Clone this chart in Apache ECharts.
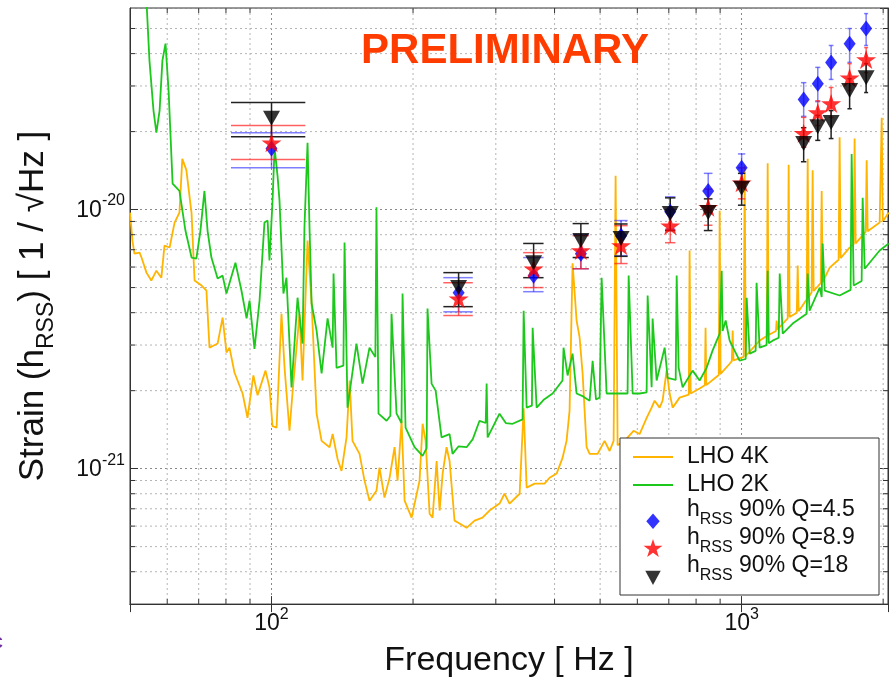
<!DOCTYPE html>
<html><head><meta charset="utf-8">
<script src="https://cdn.jsdelivr.net/npm/echarts@6/dist/echarts.min.js"></script>
<style>html,body{margin:0;padding:0;background:#fff}#c{width:891px;height:683px}</style>
</head><body><div id="c"></div>
<script>
// ---------- data ----------
const lho4kFreq = [50,50.6,51.1,52.4,52.9,54.2,55.5,56.9,58.3,59.2,60.7,62.2,63.7,64.6,65.9,67.6,68.6,71.0,72.7,73.8,76.8,78.7,80.2,81.4,83.4,86.8,88.9,91.5,93.4,97.1,99.0,100.5,102.5,105,106.6,109.2,110.8,114.7,116.4,119.3,121.7,124.7,127.8,132.9,134.9,138.2,140.9,144.4,146.6,148.7,153.9,157.7,161.6,167.2,169.7,173.9,178.3,182.7,185.4,189.1,191.9,198.6,206.5,209.6,212.7,216.9,220.1,224.5,227.8,231.2,235.7,239.2,245.1,251.2,260,270.4,281.1,290.9,305.5,313,320.9,337.1,343.8,348.9,362.8,380.9,390.4,404.1,415.9,424.2,430.5,436.9,445.6,452.2,458.9,468,475,493.9,511.1,523.8,534.2,539.4,544.7,563.7,589,606.7,628,643.5,653,669.2,679,692.5,702.8,713.3,738,772,775,779,814,835,838,841,894,898,902,943,953,957,961,1010,1015,1020,1092,1131,1136,1141,1183,1187,1192,1253,1259,1265,1310,1316,1322,1375,1382,1389,1409,1416,1423,1473,1480,1487,1539,1608,1616,1624,1697,1731,1739,1748,1836,1845,1854,1966,1976,1986,1996,2055];
const lho4kStrain = [9.74e-21,7.59e-21,6.76e-21,6.82e-21,6.53e-21,5.71e-21,5.32e-21,5.81e-21,5.46e-21,7.26e-21,7.14e-21,8.91e-21,9.74e-21,1.57e-20,1.42e-20,9.66e-21,5.32e-21,5.09e-21,4.87e-21,2.93e-21,3.04e-21,3.83e-21,2.81e-21,2.93e-21,2.35e-21,1.95e-21,1.57e-21,2.29e-21,1.92e-21,2.39e-21,2.06e-21,1.46e-21,1.44e-21,3.96e-21,2.45e-21,1.40e-21,1.95e-21,3.96e-21,2.19e-21,7.59e-21,4.34e-21,1.63e-21,1.28e-21,1.21e-21,1.36e-21,1.09e-21,9.8e-22,1.32e-21,2.19e-21,1.28e-21,1.14e-21,8.99e-22,7.52e-22,8.22e-22,1.01e-21,7.73e-22,9.22e-22,1.21e-21,8.99e-22,1.53e-21,7.52e-22,6.47e-22,8.99e-22,1.49e-21,1.28e-21,6.7e-22,6.47e-22,1.07e-21,6.89e-22,9.57e-22,1.21e-21,1.07e-21,6.3e-22,6.14e-22,5.91e-22,6.3e-22,6.47e-22,6.89e-22,7.33e-22,8.0e-22,7.33e-22,8.0e-22,1.71e-21,8.45e-22,8.75e-22,8.75e-22,9.22e-22,9.57e-22,1.10e-21,1.28e-21,1.67e-21,6.2e-21,3.73e-21,3.21e-21,2.33e-21,1.21e-21,1.14e-21,1.14e-21,1.28e-21,1.17e-21,1.28e-21,1.35e-20,1.23e-21,1.28e-21,1.40e-21,1.36e-21,1.57e-21,1.72e-21,1.83e-21,1.72e-21,1.83e-21,2.39e-21,1.95e-21,1.72e-21,1.88e-21,1.93e-21,6.95e-21,1.95e-21,2.04e-21,2.1e-21,3.5e-21,2.1e-21,2.3e-21,9.9e-21,2.32e-21,2.54e-21,2.6e-21,3.41e-21,2.62e-21,2.7e-21,1.48e-20,2.72e-21,3.12e-21,3.25e-21,1.51e-20,3.28e-21,3.4e-21,3.73e-21,3.45e-21,3.8e-21,1.49e-20,3.85e-21,4.0e-21,6.08e-21,4.05e-21,4.5e-21,1.57e-20,4.6e-21,4.8e-21,1.42e-20,4.85e-21,5.2e-21,1.18e-20,5.25e-21,5.97e-21,6.4e-21,1.90e-20,6.5e-21,7.13e-21,7.35e-21,1.88e-20,7.4e-21,8.2e-21,1.55e-20,8.25e-21,8.91e-21,8.95e-21,2.26e-20,9.0e-21,9.74e-21];

const lho2kFreq = [52,54.2,55.0,56.1,56.9,57.8,58.6,59.5,60.4,61.6,63.7,65.6,67.6,69.2,70.6,72.0,73.1,74.5,76.8,78.7,80.2,83.8,86.3,88.5,89.8,92.0,94.3,96.6,98.1,99.0,100.5,101.5,103,104,106,107.6,110.3,113.6,116.4,117.5,119.3,120.5,121.7,124.7,127.8,131.6,134.9,135.5,137.5,142.2,143,145.1,151.6,156.2,161.6,166.3,167.2,168.9,175.7,179,180,184.5,189,190,192.8,201.5,209.6,213.8,214.7,219,223.4,230,239.2,242.7,250,260,268,277,285.5,286.8,288.2,305.5,315,325.7,342,343.8,348.9,358,359.3,366.4,380,396.2,415.9,418,426.4,436.9,445.6,460,475,482,490,498.8,503.7,516.2,542,572,575,586.4,606.7,628,631,643.5,646.6,659.4,685.9,696,724,727.5,734.5,749,786.6,814,842.4,867.6,898,903,907,911,924.7,943,990,1020,1025,1040,1071,1076,1092,1130,1136,1142,1164,1199,1205,1223,1284,1375,1382,1395,1466,1480,1487,1502,1616,1705,1714,1731,1800,1809,1827,1966,2055];
const lho2kStrain = [1e-19,6.4e-20,3.76e-20,2.41e-20,1.98e-20,2.41e-20,3.76e-20,4.37e-20,2.88e-20,1.26e-20,1.18e-20,8.3e-21,6.53e-21,6.47e-21,8.3e-21,1.18e-20,8.3e-21,6.53e-21,5.42e-21,5.56e-21,4.74e-21,6.24e-21,4.87e-21,3.80e-21,4.45e-21,2.90e-21,4.45e-21,8.91e-21,9.07e-21,6.36e-21,1.08e-20,1.73e-20,1.35e-20,1.08e-20,4.74e-21,5.46e-21,2.06e-21,4.57e-21,3.04e-21,8.53e-21,1.81e-20,8.3e-21,4.34e-21,3.41e-21,2.33e-21,3.80e-21,2.93e-21,5.66e-21,2.45e-21,2.5e-21,7.46e-21,1.72e-21,3.04e-21,2.13e-21,2.93e-21,2.7e-21,1.02e-20,1.63e-21,1.53e-21,1.6e-21,3.96e-21,1.63e-21,1.5e-21,4.74e-21,1.44e-21,1.21e-21,1.12e-21,1.2e-21,4.15e-21,2.13e-21,2.0e-21,1.32e-21,1.36e-21,1.14e-21,1.22e-21,1.21e-21,1.3e-21,1.53e-21,1.5e-21,2.13e-21,1.32e-21,1.63e-21,1.5e-21,1.49e-21,1.55e-21,4.07e-21,1.72e-21,1.75e-21,3.5e-21,1.72e-21,1.85e-21,1.95e-21,2.19e-21,2.93e-21,2.29e-21,2.78e-21,1.95e-21,1.9e-21,1.83e-21,2.61e-21,1.85e-21,1.88e-21,5.46e-21,1.95e-21,1.95e-21,1.95e-21,5.56e-21,1.95e-21,1.95e-21,1.97e-21,4.66e-21,2.06e-21,3.80e-21,2.19e-21,2.93e-21,2.24e-21,2.2e-21,5.56e-21,2.45e-21,2.06e-21,2.39e-21,2.19e-21,2.45e-21,2.86e-21,3.32e-21,3.3e-21,5.8e-21,3.4e-21,3.73e-21,3.12e-21,2.61e-21,2.65e-21,4.57e-21,2.78e-21,2.85e-21,5.22e-21,2.93e-21,3.0e-21,5.8e-21,3.05e-21,3.12e-21,3.2e-21,5.66e-21,3.32e-21,3.63e-21,3.96e-21,5.66e-21,4.07e-21,5.0e-21,4.6e-21,7.4e-21,4.87e-21,4.66e-21,4.9e-21,1.64e-20,5.09e-21,5.3e-21,1.11e-20,5.91e-21,6.95e-21,7.4e-21];

// sine-Gaussian central frequencies (Hz) and 90% h_rss upper limits with error ranges
const sgFreq = [100,250,361,455,554,705,849,1000,1355,1452,1550,1697,1840];
const q45Val = [1.72e-20,4.78e-21,5.56e-21,6.76e-21,7.93e-21,9.8e-21,1.18e-20,1.45e-20,2.66e-20,3.06e-20,3.70e-20,4.37e-20,5.0e-20];
const q45Lo  = [1.45e-20,4.03e-21,4.82e-21,5.91e-21,6.64e-21,8.4e-21,1.0e-20,1.27e-20,2.29e-20,2.61e-20,3.18e-20,3.7e-20,4.3e-20];
const q45Hi  = [1.98e-20,5.46e-21,6.53e-21,8.0e-21,9.07e-21,1.12e-20,1.38e-20,1.64e-20,3.09e-20,3.54e-20,4.30e-20,5.0e-20,5.71e-20];
const q89Val = [1.81e-20,4.53e-21,5.91e-21,6.95e-21,7.26e-21,8.67e-21,1.02e-20,1.27e-20,1.97e-20,2.37e-20,2.57e-20,3.23e-20,3.80e-20];
const q89Lo  = [1.56e-20,3.90e-21,5.0e-21,5.91e-21,6.19e-21,7.45e-21,8.7e-21,1.10e-20,1.74e-20,2.11e-20,2.27e-20,2.88e-20,3.38e-20];
const q89Hi  = [2.11e-20,5.22e-21,6.82e-21,7.93e-21,8.67e-21,1.0e-20,1.2e-20,1.45e-20,2.27e-20,2.63e-20,2.96e-20,3.66e-20,4.22e-20];
const q18Val = [2.25e-20,5.0e-21,6.24e-21,7.59e-21,7.73e-21,9.66e-21,9.74e-21,1.21e-20,1.80e-20,2.09e-20,2.17e-20,2.88e-20,3.23e-20];
const q18Lo  = [1.91e-20,4.22e-21,5.46e-21,6.53e-21,6.6e-21,8.3e-21,8.3e-21,1.04e-20,1.53e-20,1.85e-20,1.88e-20,2.45e-20,2.83e-20];
const q18Hi  = [2.59e-20,5.71e-21,7.40e-21,8.83e-21,8.8e-21,1.11e-20,1.10e-20,1.38e-20,2.07e-20,2.31e-20,2.41e-20,3.2e-20,3.66e-20];

// axis ranges and minor grid/tick values
const X_MIN = 50, X_MAX = 2048, Y_MIN = 3e-22, Y_MAX = 6e-20;
const xMinor = [60,70,80,90,200,300,400,500,600,700,800,900,2000];
const yMinor = [4e-22,5e-22,6e-22,7e-22,8e-22,9e-22,2e-21,3e-21,4e-21,5e-21,6e-21,7e-21,8e-21,9e-21,2e-20,3e-20,4e-20,5e-20];

// ---------- styling ----------
const FONT = '"Liberation Sans", Arial, Helvetica, sans-serif';
const CAP_HZ = 18; // half width of error-bar caps in Hz (linear)
const ORANGE = '#FFB400', GREEN = '#1DC81D';

function powLabel(v) {
  const e = Math.log10(v), r = Math.round(e);
  if (Math.abs(e - r) > 1e-6) return '';
  return '{b|10}{s|' + r + '}';
}
const tickRich = {
  b: { fontSize: 23, fontFamily: FONT, color: '#111', lineHeight: 33, verticalAlign: 'bottom', padding: [0, 0, 4, 0] },
  s: { fontSize: 16, fontFamily: FONT, color: '#111', verticalAlign: 'top' }
};
const splitStyle = { type: [2, 3], color: '#8a8a8a', width: 1 };

const lineIcon = 'path://M0,15L40,15L40,17L0,17Z M0,0 M0,32';
const diamondIcon = 'path://M6.5,0L13,7.5L6.5,15L0,7.5Z M6.5,-16';
const starIcon = 'path://M10,0L12.245,6.91L19.511,6.91L13.633,11.18L15.878,18.09L10,13.82L4.122,18.09L6.367,11.18L0.489,6.91L7.755,6.91Z M10,-14';
const triIcon = 'path://M0,0L14,0L7,13Z M7,-16';
const starSymbol = 'path://M10,0L12.245,6.91L19.511,6.91L13.633,11.18L15.878,18.09L10,13.82L4.122,18.09L6.367,11.18L0.489,6.91L7.755,6.91Z';

function zip(a, b) { return a.map((v, i) => [v, b[i]]); }

function errSeries(name, color, vals, lo, hi) {
  return {
    type: 'custom', name: name, z: 4, silent: true,
    data: sgFreq.map((f, i) => [f, vals[i], lo[i], hi[i]]),
    encode: { x: 0, y: 1 },
    renderItem: function (params, api) {
      const f = api.value(0), l = api.value(2), h = api.value(3);
      const pt = api.coord([f, h]), pb = api.coord([f, l]);
      const xl = api.coord([f - CAP_HZ, l])[0], xr = api.coord([f + CAP_HZ, l])[0];
      const st = { stroke: color, lineWidth: 1.5 };
      return { type: 'group', children: [
        { type: 'line', shape: { x1: pt[0], y1: pt[1], x2: pb[0], y2: pb[1] }, style: st },
        { type: 'line', shape: { x1: xl, y1: pt[1], x2: xr, y2: pt[1] }, style: st },
        { type: 'line', shape: { x1: xl, y1: pb[1], x2: xr, y2: pb[1] }, style: st }
      ]};
    }
  };
}

function minorTicks(values, isX) {
  return {
    type: 'custom', silent: true, z: 6,
    data: values.map(v => isX ? [v, Y_MIN] : [X_MIN, v]),
    encode: { x: 0, y: 1 },
    renderItem: function (params, api) {
      const cs = params.coordSys;
      const p = api.coord([api.value(0), api.value(1)]);
      const st = { stroke: '#333', lineWidth: 1 };
      const L = 5;
      if (isX) {
        return { type: 'group', children: [
          { type: 'line', shape: { x1: p[0], y1: cs.y + cs.height, x2: p[0], y2: cs.y + cs.height - L }, style: st },
          { type: 'line', shape: { x1: p[0], y1: cs.y, x2: p[0], y2: cs.y + L }, style: st }
        ]};
      }
      return { type: 'group', children: [
        { type: 'line', shape: { x1: cs.x, y1: p[1], x2: cs.x + L, y2: p[1] }, style: st },
        { type: 'line', shape: { x1: cs.x + cs.width, y1: p[1], x2: cs.x + cs.width - L, y2: p[1] }, style: st }
      ]};
    }
  };
}

function minorGrid(values, isX) {
  return {
    type: 'custom', silent: true, z: 1,
    data: values.map(v => isX ? [v, Y_MIN] : [X_MIN, v]),
    encode: { x: 0, y: 1 },
    renderItem: function (params, api) {
      const cs = params.coordSys;
      const p = api.coord([api.value(0), api.value(1)]);
      const st = { stroke: '#b4b4b4', lineWidth: 1, lineDash: [2, 3] };
      if (isX) return { type: 'line', shape: { x1: p[0], y1: cs.y, x2: p[0], y2: cs.y + cs.height }, style: st };
      return { type: 'line', shape: { x1: cs.x, y1: p[1], x2: cs.x + cs.width, y2: p[1] }, style: st };
    }
  };
}

const legendNames = {
  'LHO 4K': '{p|LHO 4K}',
  'LHO 2K': '{p|LHO 2K}',
  'hRSS 90% Q=4.5': '{t|h}{s|RSS}{t| 90% Q=4.5}',
  'hRSS 90% Q=8.9': '{t|h}{s|RSS}{t| 90% Q=8.9}',
  'hRSS 90% Q=18': '{t|h}{s|RSS}{t| 90% Q=18}'
};

const chart = echarts.init(document.getElementById('c'), null, { renderer: 'canvas' });
const axisLineStyle = { show: true, lineStyle: { color: '#333', width: 1 } };
const tickStyle = { show: true, inside: true, length: 8, lineStyle: { color: '#333', width: 1 } };

chart.setOption({
  animation: false,
  backgroundColor: '#fff',
  textStyle: { fontFamily: FONT },
  grid: { left: 130, top: 8, width: 758, height: 597, show: true, borderColor: '#333', borderWidth: 1, backgroundColor: '#fff' },
  xAxis: [
    { type: 'log', logBase: 10, min: X_MIN, max: X_MAX, position: 'bottom',
      axisLine: axisLineStyle, axisTick: tickStyle,
      axisLabel: { formatter: powLabel, rich: tickRich, margin: 2, showMinLabel: false, showMaxLabel: false },
      splitLine: { show: true, lineStyle: splitStyle },
      name: 'Frequency [ Hz ]', nameLocation: 'middle', nameGap: 39,
      nameTextStyle: { fontSize: 34, fontFamily: FONT, color: '#111' } },
    { type: 'log', logBase: 10, min: X_MIN, max: X_MAX, position: 'top',
      axisLine: axisLineStyle, axisTick: tickStyle, axisLabel: { show: false }, splitLine: { show: false } }
  ],
  yAxis: [
    { type: 'log', logBase: 10, min: Y_MIN, max: Y_MAX, position: 'left',
      axisLine: axisLineStyle, axisTick: tickStyle,
      axisLabel: { formatter: powLabel, rich: tickRich, margin: 5, showMinLabel: false, showMaxLabel: false },
      splitLine: { show: true, lineStyle: splitStyle },
      name: 'Strain (h{s|RSS}) [ 1 / \u221AHz ]', nameLocation: 'middle', nameGap: 72,
      nameTextStyle: { fontSize: 35, fontFamily: FONT, color: '#111',
        rich: { s: { fontSize: 23, fontFamily: FONT, color: '#111', lineHeight: 50, verticalAlign: 'bottom' } } } },
    { type: 'log', logBase: 10, min: Y_MIN, max: Y_MAX, position: 'right',
      axisLine: axisLineStyle, axisTick: tickStyle, axisLabel: { show: false }, splitLine: { show: false } }
  ],
  legend: {
    orient: 'vertical', left: 633, top: 441, padding: 0, z: 5,
    itemWidth: 40, itemHeight: 32, itemGap: -4, selectedMode: false,
    data: [
      { name: 'LHO 4K', icon: lineIcon }, { name: 'LHO 2K', icon: lineIcon },
      { name: 'hRSS 90% Q=4.5', icon: diamondIcon },
      { name: 'hRSS 90% Q=8.9', icon: starIcon },
      { name: 'hRSS 90% Q=18', icon: triIcon }
    ],
    formatter: n => legendNames[n],
    textStyle: {
      fontFamily: FONT, fontSize: 23, color: '#111', padding: [0, 0, 0, 9],
      rich: {
        p: { fontSize: 23, fontFamily: FONT, color: '#111', lineHeight: 30 },
        t: { fontSize: 23, fontFamily: FONT, color: '#111', lineHeight: 30, verticalAlign: 'top' },
        s: { fontSize: 16, fontFamily: FONT, color: '#111', verticalAlign: 'bottom' }
      }
    }
  },
  graphic: [
    { type: 'rect', z: 3, silent: true, shape: { x: 620, y: 438, width: 259, height: 157 },
      style: { fill: '#fff', stroke: '#333', lineWidth: 1 } },
    { type: 'text', z: 10, silent: true,
      style: { text: 'PRELIMINARY', x: 505, y: 51, textAlign: 'center', textVerticalAlign: 'middle',
        fill: '#FF3C00', font: 'bold 42px ' + FONT } },
    { type: 'text', z: 10, silent: true,
      style: { text: '\u025B', x: -7, y: 632, fill: '#7030A0', font: 'bold 20px ' + FONT } }
  ],
  series: [
    minorGrid(xMinor, true),
    minorGrid(yMinor, false),
    { type: 'line', name: 'LHO 4K', data: zip(lho4kFreq, lho4kStrain), showSymbol: false, symbol: 'none',
      lineStyle: { color: ORANGE, width: 1.8 }, itemStyle: { color: ORANGE }, z: 2 },
    { type: 'line', name: 'LHO 2K', data: zip(lho2kFreq, lho2kStrain), showSymbol: false, symbol: 'none',
      lineStyle: { color: GREEN, width: 1.8 }, itemStyle: { color: GREEN }, z: 2 },
    errSeries('err45', 'rgba(40,40,255,0.6)', q45Val, q45Lo, q45Hi),
    { type: 'scatter', name: 'hRSS 90% Q=4.5', data: zip(sgFreq, q45Val), symbol: 'diamond', symbolSize: [12, 16],
      itemStyle: { color: '#0000FF' }, z: 4 },
    errSeries('err89', 'rgba(255,30,30,0.7)', q89Val, q89Lo, q89Hi),
    { type: 'scatter', name: 'hRSS 90% Q=8.9', data: zip(sgFreq, q89Val), symbol: starSymbol, symbolSize: [20, 19],
      itemStyle: { color: '#FF0000' }, z: 4 },
    errSeries('err18', '#222', q18Val, q18Lo, q18Hi),
    { type: 'scatter', name: 'hRSS 90% Q=18', data: zip(sgFreq, q18Val), symbol: 'triangle', symbolRotate: 180, symbolSize: [17, 15],
      itemStyle: { color: '#000' }, z: 4 },
    minorTicks(xMinor, true),
    minorTicks(yMinor, false)
  ]
});
</script>
</body></html>
